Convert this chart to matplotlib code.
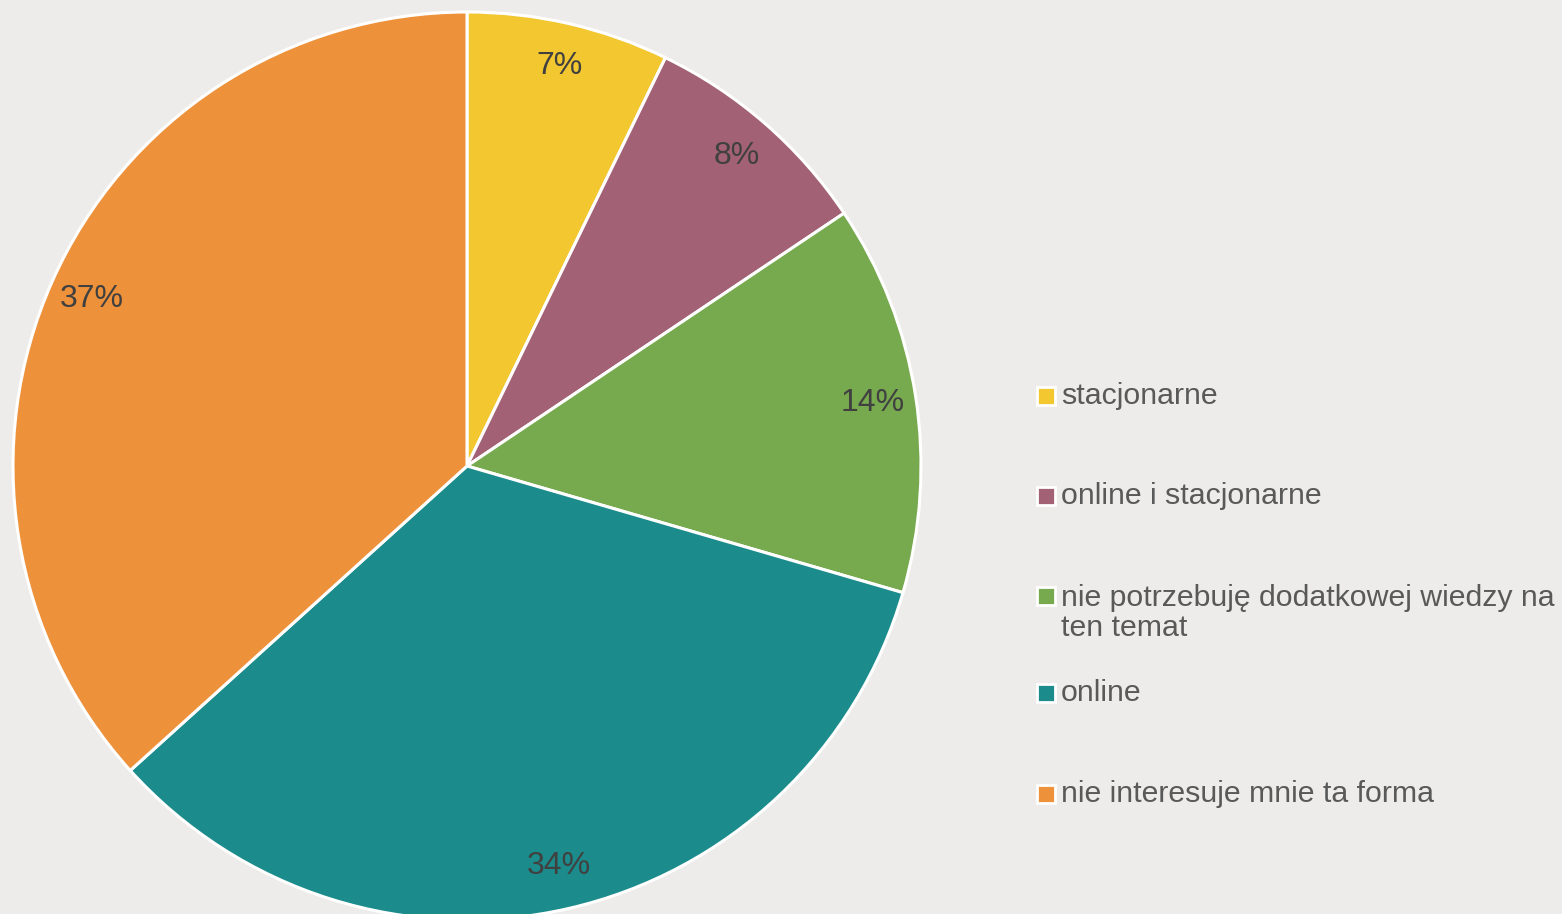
import matplotlib
matplotlib.use("Agg")
import matplotlib.pyplot as plt
from matplotlib.patches import Rectangle
import numpy as np

categories = ["stacjonarne", "online i stacjonarne",
              "nie potrzebuję dodatkowej wiedzy na\nten temat",
              "online", "nie interesuje mnie ta forma"]
values = [7.2, 8.4, 13.9, 33.8, 36.7]
pct_labels = ["7%", "8%", "14%", "34%", "37%"]
colors = ["#F2C72F", "#A36176", "#77AA4E", "#1B8C8B", "#EE913B"]

BG = "#EDECEA"
W, H = 1562, 914
fig = plt.figure(figsize=(W / 100, H / 100), dpi=100, facecolor=BG)

cx, cy, r = 467, 466, 454
ax = fig.add_axes([(cx - r) / W, (H - cy - r) / H, 2 * r / W, 2 * r / H])
ax.set_facecolor(BG)
wedges, _ = ax.pie(values, colors=colors, startangle=90, counterclock=False,
                   radius=1.0,
                   wedgeprops=dict(edgecolor="white", linewidth=2.2))
cum = np.cumsum([0] + values)
for i, lab in enumerate(pct_labels):
    mid = 90 - (cum[i] + values[i] / 2) / 100 * 360
    rad = np.deg2rad(mid)
    ax.text(0.905 * np.cos(rad), 0.905 * np.sin(rad), lab, ha="center", va="center",
            fontsize=23, color="#404040", family="Liberation Sans")
ax.set_xlim(-1, 1)
ax.set_ylim(-1, 1)
ax.set_aspect("equal")
ax.axis("off")

# legend
marker_ys = [396, 496, 596, 693, 794]
text_ys = [396, 496, 613, 693, 794]
for i, (lab, col) in enumerate(zip(categories, colors)):
    y = marker_ys[i]
    fig.patches.append(Rectangle((1037 / W, (H - y - 9) / H), 18 / W, 18 / H,
                                 transform=fig.transFigure, facecolor=col,
                                 edgecolor="white", linewidth=2))
    fig.text(1061 / W, (H - text_ys[i]) / H, lab, ha="left", va="center",
             fontsize=21.8, color="#595959", family="Liberation Sans",
             linespacing=1.1)

fig.savefig("out.png", dpi=100, facecolor=BG)
